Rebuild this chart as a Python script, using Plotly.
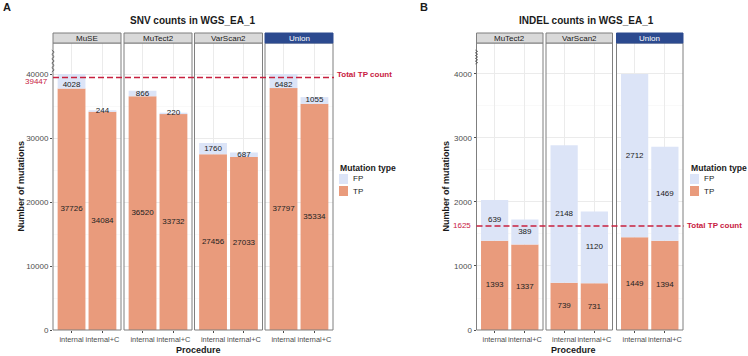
import plotly.graph_objects as go

# ---------------- data ----------------
procedures = ["internal", "internal+C"]

snv_callers = ["MuSE", "MuTect2", "VarScan2", "Union"]
snv_tp = [[37726, 34084], [36520, 33732], [27456, 27033], [37797, 35334]]
snv_fp = [[4028, 244], [866, 220], [1760, 687], [6482, 1055]]
snv_total_tp = 39447
snv_ticks = [0, 10000, 20000, 30000, 40000]
snv_break = 40000      # axis break: bars are cut at this value
snv_ymax = 44844

indel_callers = ["MuTect2", "VarScan2", "Union"]
indel_tp = [[1393, 1337], [739, 731], [1449, 1394]]
indel_fp = [[639, 389], [2148, 1120], [2712, 1469]]
indel_total_tp = 1625
indel_ticks = [0, 1000, 2000, 3000, 4000]
indel_break = 4000
indel_ymax = 4484

# ---------------- styling ----------------
W, H = 748, 356
TP_COL = "#E99B7C"
FP_COL = "#DCE4F7"
RED = "#C8203F"
STRIP_GREY = "#D9D9D9"
STRIP_UNION = "#2C4A8F"
BORDER = "#7F7F7F"
GRID = "#EBEBEB"
TICK_COL = "#4D4D4D"
FONT = "Liberation Sans, Arial, sans-serif"

def X(px):
    return px / W

def Y(py):
    return 1 - py / H

PLOT_TOP, PLOT_BOT = 43, 330
STRIP_TOP = 33

panels = [
    dict(callers=snv_callers, tp=snv_tp, fp=snv_fp, total=snv_total_tp,
         ticks=snv_ticks, brk=snv_break, ymax=snv_ymax, minor=5000,
         starts=[53, 124, 194.5, 265], width=68, yaxis="y",
         title="SNV counts in WGS_EA_1", title_x=193, letter="A", letter_x=7,
         ytitle_x=20, proc_x=198, leg_x=338, tick_right=50, lab_shift=-3.5, txt_shift=3),
    dict(callers=indel_callers, tp=indel_tp, fp=indel_fp, total=indel_total_tp,
         ticks=indel_ticks, brk=indel_break, ymax=indel_ymax, minor=500,
         starts=[476.5, 546, 616.5], width=66.5, yaxis="y2",
         title="INDEL counts in WGS_EA_1", title_x=586, letter="B", letter_x=424,
         ytitle_x=445, proc_x=573, leg_x=689, tick_right=473, lab_shift=0, txt_shift=0),
]

fig = go.Figure()
layout = dict(
    width=W, height=H, margin=dict(l=0, r=0, t=0, b=0),
    paper_bgcolor="white", plot_bgcolor="white",
    showlegend=False, barmode="overlay",
    font=dict(family=FONT, size=8, color=TICK_COL),
)
shapes = []
annotations = []

xi = 0
for p in panels:
    yname = p["yaxis"]
    ylayout_key = "yaxis" if yname == "y" else "yaxis" + yname[1:]
    first_x = None
    for k, caller in enumerate(p["callers"]):
        xi += 1
        xname = "x" if xi == 1 else "x%d" % xi
        xkey = "xaxis" if xi == 1 else "xaxis%d" % xi
        if first_x is None:
            first_x = xname
        x0 = p["starts"][k]
        x1 = x0 + p["width"]
        tp = p["tp"][k]
        fp = p["fp"][k]
        fp_shown = [min(t + f, p["brk"]) - t for t, f in zip(tp, fp)]
        capped = [t + f > p["brk"] for t, f in zip(tp, fp)]

        fig.add_trace(go.Bar(x=procedures, y=tp, width=0.9, marker_color=TP_COL,
                             marker_line_width=0, xaxis=xname, yaxis=yname,
                             name="TP", hoverinfo="skip"))
        fig.add_trace(go.Bar(x=procedures, y=fp_shown, base=tp, width=0.9,
                             marker_color=FP_COL, marker_line_width=0,
                             xaxis=xname, yaxis=yname, name="FP", hoverinfo="skip"))
        # value labels
        fig.add_trace(go.Scatter(x=procedures, y=[t / 2 for t in tp], mode="text",
                                 text=[str(t) for t in tp],
                                 textfont=dict(size=8, color="#222222", family=FONT),
                                 xaxis=xname, yaxis=yname, hoverinfo="skip"))
        fig.add_trace(go.Scatter(x=procedures,
                                 y=[t + s / 2 for t, s in zip(tp, fp_shown)],
                                 mode="text", text=[str(f) for f in fp],
                                 textposition=["bottom center" if (c and yname == "y")
                                               else "middle center" for c in capped],
                                 textfont=dict(size=8, color="#222222", family=FONT),
                                 xaxis=xname, yaxis=yname, hoverinfo="skip"))

        layout[xkey] = dict(
            domain=[X(x0), X(x1)], anchor=yname, type="category",
            range=[-0.6, 1.6], showgrid=True, gridcolor=GRID, gridwidth=1,
            ticks="outside", ticklen=2, tickcolor=TICK_COL, showline=False,
            tickangle=0, automargin=False,
            tickfont=dict(size=7.4, color=TICK_COL), zeroline=False, fixedrange=True,
        )
        # panel border
        shapes.append(dict(type="rect", xref="paper", yref="paper",
                           x0=X(x0), x1=X(x1), y0=Y(PLOT_BOT), y1=Y(PLOT_TOP),
                           line=dict(color=BORDER, width=1), layer="above"))
        # strip
        union = caller == "Union"
        shapes.append(dict(type="rect", xref="paper", yref="paper",
                           x0=X(x0), x1=X(x1), y0=Y(PLOT_TOP), y1=Y(STRIP_TOP),
                           fillcolor=STRIP_UNION if union else STRIP_GREY,
                           line=dict(color=STRIP_UNION if union else BORDER, width=1),
                           layer="above"))
        annotations.append(dict(xref="paper", yref="paper", x=X((x0 + x1) / 2),
                                y=Y((STRIP_TOP + PLOT_TOP) / 2), text=caller,
                                showarrow=False, xanchor="center", yanchor="middle",
                                font=dict(size=8, color="white" if union else "#1A1A1A",
                                          family=FONT)))
    xs0 = p["starts"][0]
    xs1 = p["starts"][-1] + p["width"]

    layout[ylayout_key] = dict(
        domain=[Y(PLOT_BOT), Y(PLOT_TOP)], anchor=first_x, range=[0, p["ymax"]],
        tickvals=p["ticks"], tickformat="d", ticks="outside", ticklen=2,
        tickcolor=TICK_COL, automargin=False,
        showgrid=True, gridcolor=GRID, gridwidth=1, zeroline=False,
        minor=dict(dtick=p["minor"], showgrid=True, gridcolor="#F5F5F5", gridwidth=0.6),
        tickfont=dict(size=8, color=TICK_COL), showline=False, fixedrange=True,
    )

    # total TP dashed line
    shapes.append(dict(type="line", xref="paper", yref=yname, x0=X(xs0), x1=X(xs1 + 1),
                       y0=p["total"], y1=p["total"],
                       line=dict(color=RED, width=1.4, dash="6px,3px"), layer="above"))
    annotations.append(dict(xref="paper", yref=yname, x=X(p["tick_right"]), y=p["total"],
                            yshift=p["lab_shift"],
                            text=str(p["total"]), showarrow=False, xanchor="right",
                            yanchor="middle", font=dict(size=8, color=RED, family=FONT)))
    annotations.append(dict(xref="paper", yref=yname, x=X(xs1 + 2), y=p["total"],
                            yshift=p["txt_shift"],
                            text="<b>Total TP count</b>", showarrow=False, xanchor="left",
                            yanchor="middle", font=dict(size=8, color=RED, family=FONT)))

    # axis break zigzag on left axis
    zx = xs0
    zy0 = 50
    zy1 = 72 if yname == "y" else 64
    pts = []
    n = 10
    for i in range(n + 1):
        py = zy0 + (zy1 - zy0) * i / n
        px = zx + (1.2 if i % 2 else -1.2)
        pts.append((X(px), Y(py)))
    path = "M " + " L ".join("%.5f,%.5f" % q for q in pts)
    shapes.append(dict(type="path", xref="paper", yref="paper", path=path,
                       line=dict(color="#555555", width=0.8), layer="above"))

    # titles
    annotations.append(dict(xref="paper", yref="paper", x=X(p["title_x"]), y=Y(21),
                            text="<b>%s</b>" % p["title"], showarrow=False,
                            xanchor="center", yanchor="middle",
                            font=dict(size=10, color="#1A1A1A", family=FONT)))
    annotations.append(dict(xref="paper", yref="paper", x=X(p["letter_x"]), y=Y(7),
                            text="<b>%s</b>" % p["letter"], showarrow=False,
                            xanchor="center", yanchor="middle",
                            font=dict(size=11, color="#1A1A1A", family=FONT)))
    annotations.append(dict(xref="paper", yref="paper", x=X(p["ytitle_x"]),
                            y=Y((PLOT_TOP + PLOT_BOT) / 2),
                            text="<b>Number of mutations</b>", showarrow=False,
                            textangle=-90, xanchor="center", yanchor="middle",
                            font=dict(size=9, color="#1A1A1A", family=FONT)))
    annotations.append(dict(xref="paper", yref="paper", x=X(p["proc_x"]), y=Y(350),
                            text="<b>Procedure</b>", showarrow=False,
                            xanchor="center", yanchor="middle",
                            font=dict(size=9, color="#1A1A1A", family=FONT)))

    # legend
    lx = p["leg_x"]
    annotations.append(dict(xref="paper", yref="paper", x=X(lx), y=Y(168),
                            text="<b>Mutation type</b>", showarrow=False,
                            xanchor="left", yanchor="middle",
                            font=dict(size=8.6, color="#1A1A1A", family=FONT)))
    for j, (lab, col) in enumerate([("FP", FP_COL), ("TP", TP_COL)]):
        cy = 179 + 12 * j
        shapes.append(dict(type="rect", xref="paper", yref="paper",
                           x0=X(lx + 1), x1=X(lx + 10), y0=Y(cy + 5), y1=Y(cy - 5),
                           fillcolor=col, line=dict(width=0)))
        annotations.append(dict(xref="paper", yref="paper", x=X(lx + 13), y=Y(cy),
                                text=lab, showarrow=False, xanchor="left",
                                yanchor="middle",
                                font=dict(size=8, color="#1A1A1A", family=FONT)))

layout["shapes"] = shapes
layout["annotations"] = annotations
fig.update_layout(**layout)
fig.write_html(
    "out.html",
    config={"displayModeBar": False, "staticPlot": True},
    post_script="document.body.style.margin='0';document.body.style.overflow='hidden';",
)
